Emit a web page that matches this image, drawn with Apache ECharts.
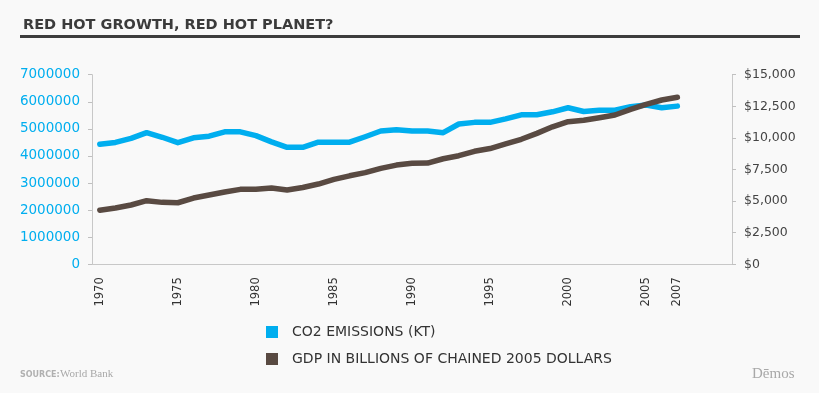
<!DOCTYPE html>
<html>
<head>
<meta charset="utf-8">
<script src="https://cdn.jsdelivr.net/npm/echarts@6/dist/echarts.min.js"></script>
<style>
html,body{margin:0;padding:0;background:#f9f9f9;}
#c{width:819px;height:393px;}
</style>
</head>
<body>
<div id="c"></div>
<script>
const years = [];
for (let y = 1970; y <= 2010; y++) years.push(String(y));
const yearLabels = ['1970','1975','1980','1985','1990','1995','2000','2005','2007'];
const co2Name = 'CO2 EMISSIONS (KT)';
const gdpName = 'GDP IN BILLIONS OF CHAINED 2005 DOLLARS';
const co2 = [4430000,4500000,4650000,4860000,4690000,4490000,4670000,4730000,4890000,4890000,
             4750000,4520000,4320000,4320000,4510000,4510000,4510000,4710000,4920000,4970000,
             4920000,4920000,4860000,5180000,5240000,5240000,5370000,5520000,5520000,5630000,
             5780000,5640000,5690000,5690000,5820000,5880000,5780000,5840000];
const gdp = [4280,4450,4690,5030,4900,4870,5240,5480,5720,5930,
             5930,6030,5880,6080,6350,6720,7000,7250,7590,7850,
             7990,8010,8350,8590,8940,9160,9520,9890,10360,10880,
             11280,11390,11600,11810,12260,12660,13000,13210];
const leftTicks = {min:0, max:7000000, interval:1000000};
const rightTicks = {min:0, max:15000, interval:2500};

const chart = echarts.init(document.getElementById('c'));
chart.setOption({
  backgroundColor:'#f9f9f9',
  animation:false,
  title:{
    text:'RED HOT GROWTH, RED HOT PLANET?',
    left:18, top:13,
    textStyle:{fontFamily:'DejaVu Sans', fontWeight:'bold', fontSize:14.5, color:'#3b3b3b'}
  },
  graphic:[
    {type:'rect', shape:{x:20,y:35,width:780,height:3}, style:{fill:'#3d3d3d'}, silent:true},
    {type:'text', left:20, top:371, style:{text:'SOURCE:', font:'bold 8px "DejaVu Sans"', fill:'#b0b0b0'}},
    {type:'text', left:60, top:369, style:{text:'World Bank', font:'11px "Liberation Serif"', fill:'#a8a8a8'}},
    {type:'text', left:752, top:367, style:{text:'Dēmos', font:'15px "Liberation Serif"', fill:'#a8a8a8'}}
  ],
  legend:{
    orient:'vertical', left:266, top:325, padding:0, itemWidth:12, itemHeight:12, itemGap:13,
    icon:'rect',
    data:[co2Name, gdpName],
    textStyle:{fontFamily:'DejaVu Sans', fontSize:14, color:'#333', padding:[0,0,0,9]}
  },
  grid:{left:92, right:87, top:74.7, bottom:128.7, containLabel:false},
  xAxis:{
    type:'category', data:years, boundaryGap:true,
    axisLine:{lineStyle:{color:'#c8c8c8'}},
    axisTick:{interval:0, length:4, lineStyle:{color:'#c0c0c0'}},
    axisLabel:{
      interval:0, rotate:90, margin:13,
      fontFamily:'DejaVu Sans', fontSize:11.5, color:'#333',
      formatter:function(v){return yearLabels.indexOf(v) >= 0 ? v : '';}
    }
  },
  yAxis:[
    {type:'value', min:leftTicks.min, max:leftTicks.max, interval:leftTicks.interval, position:'left',
     axisLine:{show:true, lineStyle:{color:'#c8c8c8'}},
     axisTick:{show:true, length:4, lineStyle:{color:'#c0c0c0'}},
     splitLine:{show:false},
     axisLabel:{margin:12, fontFamily:'DejaVu Sans', fontSize:13.5, color:'#00aeef',
       formatter:function(v){return String(v);}}},
    {type:'value', min:rightTicks.min, max:rightTicks.max, interval:rightTicks.interval, position:'right',
     axisLine:{show:true, lineStyle:{color:'#c8c8c8'}},
     axisTick:{show:true, length:4, lineStyle:{color:'#c0c0c0'}},
     splitLine:{show:false},
     axisLabel:{margin:12, fontFamily:'DejaVu Sans', fontSize:12.5, color:'#444',
       formatter:function(v){return '$' + v.toLocaleString('en-US');}}}
  ],
  series:[
    {name:co2Name, type:'line', yAxisIndex:0, data:co2, symbol:'none',
     lineStyle:{width:5.5, color:'#00aeef', cap:'round', join:'round'}, itemStyle:{color:'#00aeef'}},
    {name:gdpName, type:'line', yAxisIndex:1, data:gdp, symbol:'none',
     lineStyle:{width:5.5, color:'#594a42', cap:'round', join:'round'}, itemStyle:{color:'#594a42'}}
  ]
});
</script>
</body>
</html>
